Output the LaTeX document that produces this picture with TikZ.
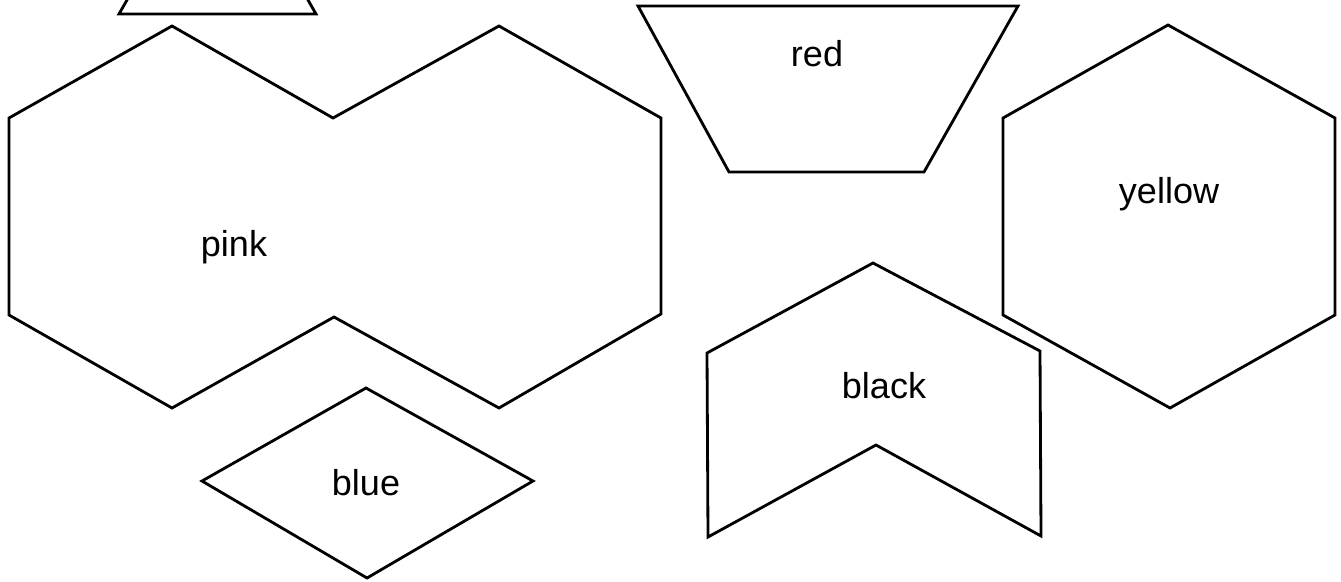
\documentclass[tikz,border=0pt]{standalone}
\usepackage{fontspec}
\setmainfont{Liberation Sans}
\usepackage{tikz}

\begin{document}
\begin{tikzpicture}[
  x=0.02cm, y=-0.02cm,
  tile/.style={draw, line width=1.6pt, line join=miter},
  lbl/.style={anchor=base, inner sep=0pt, font=\fontsize{20.5}{24}\selectfont}
]
\useasboundingbox (0,0) rectangle (1341,581);

% triangle, only its base shows at the top edge
\begin{scope}
  \clip (0,0) rectangle (1341,581);
  \draw[tile] (119,14) -- (316,14) -- (217.5,-158) -- cycle;
\end{scope}

% pink: two hexagons joined
\draw[tile] (9,118) -- (172,26) -- (333,118) -- (499,26) -- (661,118) -- (661,314)
  -- (499,408) -- (334,317) -- (172,408) -- (9,315) -- cycle;
\node[lbl] (pink) at (234,256) {pink};

% blue rhombus
\draw[tile] (366,388) -- (533,481) -- (367,578) -- (202,481) -- cycle;
\node[lbl] (blue) at (366,495) {blue};

% red trapezoid
\draw[tile] (638,6) -- (1018,6) -- (924,172) -- (729,172) -- cycle;
\node[lbl] (red) at (817,67) {red};

% black chevron
\draw[tile] (873,263) -- (1040,351) -- (1041,536) -- (876,445) -- (708,537) -- (707,353) -- cycle;
\node[lbl] (black) at (884,398) {black};

% yellow hexagon
\draw[tile] (1168,25) -- (1335,118) -- (1335,315) -- (1170,408) -- (1003,315) -- (1003,118) -- cycle;
\node[lbl] (yellow) at (1169,203) {yellow};
\end{tikzpicture}
\end{document}
